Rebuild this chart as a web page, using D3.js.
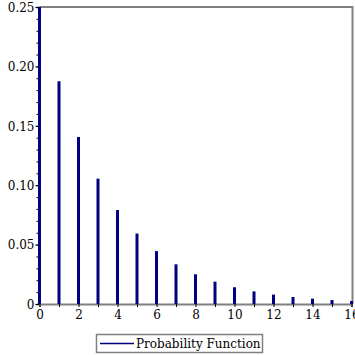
<!DOCTYPE html>
<html><head><meta charset="utf-8">
<script src="https://cdn.jsdelivr.net/npm/d3@7"></script>
<style>body{margin:0;background:#fff}svg{display:block}text{font-family:"DejaVu Serif",serif;fill:#000}</style>
</head><body>
<svg id="c" width="355" height="355"></svg>
<script>
const ks = [0,1,2,3,4,5,6,7,8,9,10,11,12,13,14,15,16];
const probs = [0.25,0.1875,0.1406,0.1055,0.0791,0.0593,0.0445,0.0334,0.0250,0.0188,0.0141,0.0106,0.0079,0.0059,0.0045,0.0033,0.0025];
const xTicks = [0,2,4,6,8,10,12,14,16];
const yTicks = [0,0.05,0.10,0.15,0.20,0.25];
const yTickLabels = ["0","0.05","0.10","0.15","0.20","0.25"];
const legendLabel = "Probability Function";

const svg = d3.select("#c");
const L=39.5, R=351.5, T=7, B=304;
const x = d3.scaleLinear().domain([0,16]).range([L,R]);
const y = d3.scaleLinear().domain([0,0.25]).range([B,T]);
const grey="#808080", navy="#000080";

// frame top/right
svg.append("path").attr("d",`M${L},${T}H${R+1}V${B}`).attr("fill","none").attr("stroke",grey).attr("stroke-width",2);

// y axis
const ya = svg.append("g").attr("transform",`translate(${L},0)`)
  .call(d3.axisLeft(y).tickValues(d3.range(0,26).map(v=>v/100)).tickSize(3).tickFormat(""));
ya.select(".domain").attr("stroke",grey).attr("stroke-width",2);
ya.selectAll(".tick line").attr("stroke","#000");
const yb = svg.append("g").attr("transform",`translate(${L},0)`)
  .call(d3.axisLeft(y).tickValues(yTicks).tickSize(4).tickFormat((d,i)=>yTickLabels[i]));
yb.select(".domain").remove();
yb.selectAll(".tick line").attr("stroke","#000");
yb.selectAll("text").attr("font-size",12).attr("font-family","DejaVu Serif").attr("x",-5).attr("dy","0.35em");

// x axis
const xa = svg.append("g").attr("transform",`translate(0,${B})`)
  .call(d3.axisBottom(x).tickValues(ks).tickSize(3).tickFormat(""));
xa.select(".domain").attr("stroke",grey).attr("stroke-width",2);
xa.selectAll(".tick line").attr("stroke","#000");
const xb = svg.append("g").attr("transform",`translate(0,${B})`)
  .call(d3.axisBottom(x).tickValues(xTicks).tickSize(0).tickFormat(d=>d));
xb.select(".domain").remove();
xb.selectAll("text").attr("font-size",12).attr("font-family","DejaVu Serif").attr("y",6);

// bars (on top of axes)
svg.append("g").selectAll("rect").data(ks).join("rect")
  .attr("x",d=>x(d)-1.5).attr("width",3)
  .attr("y",(d,i)=>y(probs[i])).attr("height",(d,i)=>B-y(probs[i]))
  .attr("fill",navy);

// legend
const lg = svg.append("g");
lg.append("rect").attr("x",96.5).attr("y",334.5).attr("width",166).attr("height",18).attr("fill","#fff").attr("stroke",grey).attr("stroke-width",1.5);
lg.append("line").attr("x1",100).attr("x2",134).attr("y1",343.5).attr("y2",343.5).attr("stroke",navy).attr("stroke-width",1.5);
lg.append("text").attr("x",136).attr("y",348).attr("font-size",12).text(legendLabel);
</script>
</body></html>
